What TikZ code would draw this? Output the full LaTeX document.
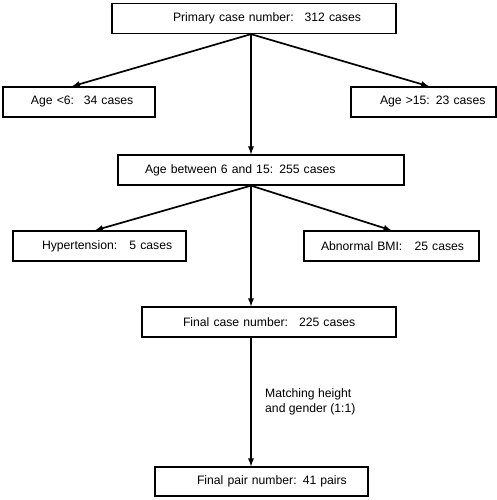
\documentclass[tikz,border=0pt]{standalone}
\usepackage{fontspec}
\setmainfont{Liberation Sans}
\usepackage{tikz}
\usetikzlibrary{arrows}

\begin{document}
\begin{tikzpicture}[x=1pt,y=-1pt]
\tikzstyle{every node}=[font=\fontsize{12.2}{15}\selectfont]
\tikzstyle{box}=[draw, line width=1.3pt, minimum height=30pt, inner xsep=0pt, align=left]
\tikzstyle{arr}=[-latex, line width=1.7pt]
\useasboundingbox (0,0) rectangle (497,500);
\coordinate (spine) at (251,0);
\draw (254,18.5) node (total) [box, text width=284pt] {\hspace*{61pt}Primary case number:\hspace{0.9em}312 cases};
\draw (79,102) node (young) [box, text width=152pt] {\hspace*{28pt}Age <6:\hspace{0.8em}34 cases};
\draw (423.5,102) node (old) [box, text width=145pt] {\hspace*{29pt}Age >15: 23 cases};
\draw (261,170) node (mid) [box, text width=286pt] {\hspace*{27pt}Age between 6 and 15: 255 cases};
\draw (99.5,246) node (hyper) [box, text width=173pt] {\hspace*{29pt}Hypertension:\hspace{1em}5 cases};
\draw (391.5,246) node (bmi) [box, text width=175pt] {\hspace*{17pt}Abnormal BMI:\hspace{1em}25 cases};
\draw (269,322) node (final) [box, text width=254pt] {\hspace*{41pt}Final case number:\hspace{0.9em}225 cases};
\draw (261.5,481.5) node (pair) [box, text width=213pt, minimum height=29pt] {\hspace*{42pt}Final pair number: 41 pairs};
\draw (265,402) node (match) [anchor=west, align=left, inner sep=0pt] {Matching height\\and gender (1:1)};
\draw[arr] (total.south -| spine) -- ([xshift=-7pt]young.north);
\draw[arr] (total.south -| spine) -- ([xshift=5.5pt]old.north);
\draw[arr] (total.south -| spine) -- (mid.north -| spine);
\draw[arr] (mid.south -| spine) -- ([xshift=-4.5pt]hyper.north);
\draw[arr] (mid.south -| spine) -- (bmi.north);
\draw[arr] (mid.south -| spine) -- (final.north -| spine);
\draw[arr] (final.south -| spine) -- (pair.north -| spine);
\end{tikzpicture}
\end{document}
